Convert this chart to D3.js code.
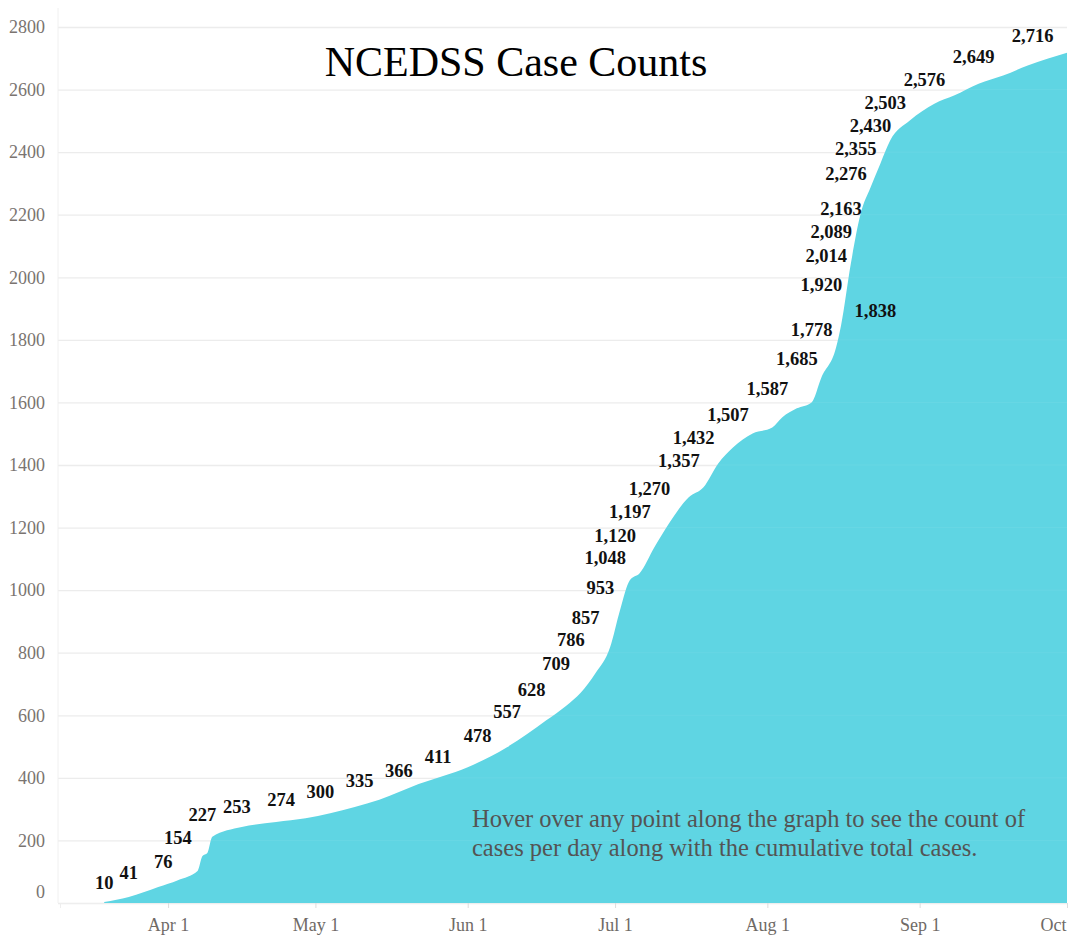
<!DOCTYPE html>
<html>
<head>
<meta charset="utf-8">
<script src="https://cdn.jsdelivr.net/npm/d3@7"></script>
<style>
  body { margin: 0; background: #fff; }
  svg { display: block; }
  .tick text { font-family: "Liberation Serif", "Times New Roman", serif; }
</style>
</head>
<body>
<script>
// cumulative case counts
var dates = [
  "2020-03-19", "2020-03-24", "2020-03-30", "2020-04-03", "2020-04-07", "2020-04-08",
  "2020-04-09", "2020-04-10", "2020-04-16", "2020-04-23", "2020-04-29", "2020-05-09",
  "2020-05-14", "2020-05-22", "2020-06-01", "2020-06-09", "2020-06-17", "2020-06-21",
  "2020-06-24", "2020-06-27", "2020-06-30", "2020-07-02", "2020-07-04", "2020-07-06",
  "2020-07-09", "2020-07-12", "2020-07-16", "2020-07-19", "2020-07-22", "2020-07-25",
  "2020-07-29", "2020-08-02", "2020-08-04", "2020-08-07", "2020-08-10", "2020-08-12",
  "2020-08-15", "2020-08-16", "2020-08-18", "2020-08-20", "2020-08-22", "2020-08-24",
  "2020-08-26", "2020-08-30", "2020-09-04", "2020-09-08", "2020-09-13", "2020-09-18",
  "2020-09-23", "2020-10-01"
];
var cases = [
  3, 19, 51, 73, 102, 150,
  160, 212, 243, 259, 271, 307,
  330, 380, 434, 498, 584, 630,
  672, 734, 818, 936, 1032, 1054,
  1137, 1214, 1297, 1329, 1405, 1456,
  1501, 1520, 1552, 1581, 1600, 1680,
  1776, 1846, 2044, 2204, 2287, 2363,
  2437, 2501, 2555, 2581, 2619, 2645,
  2677, 2718
];

// the count labels and the dates they sit over
var labelDates = [
  "2020-03-19", "2020-03-24", "2020-03-31", "2020-04-03", "2020-04-08", "2020-04-15",
  "2020-04-24", "2020-05-02", "2020-05-10", "2020-05-18", "2020-05-26", "2020-06-03",
  "2020-06-09", "2020-06-14", "2020-06-19", "2020-06-22", "2020-06-25", "2020-06-28",
  "2020-06-29", "2020-07-01", "2020-07-04", "2020-07-08", "2020-07-14", "2020-07-17",
  "2020-07-24", "2020-08-01", "2020-08-07", "2020-08-10", "2020-08-23", "2020-08-12",
  "2020-08-13", "2020-08-14", "2020-08-16", "2020-08-17", "2020-08-19", "2020-08-22",
  "2020-08-25", "2020-09-02", "2020-09-12", "2020-09-24"
];
var labelValues = [
  10, 41, 76, 154, 227, 253, 274, 300, 335, 366, 411, 478, 557, 628, 709, 786, 857, 953,
  1048, 1120, 1197, 1270, 1357, 1432, 1507, 1587, 1685, 1778, 1838, 1920, 2014, 2089,
  2163, 2276, 2355, 2430, 2503, 2576, 2649, 2716
];

var yTicks = d3.range(0, 2801, 200);
var xTicks = ["2020-04-01", "2020-05-01", "2020-06-01", "2020-07-01", "2020-08-01", "2020-09-01", "2020-10-01"];

var title = "NCEDSS Case Counts";
var note = ["Hover over any point along the graph to see the count of",
            "cases per day along with the cumulative total cases."];

(function() {
  var parse = d3.timeParse("%Y-%m-%d");
  var serif = '"Liberation Serif", "Times New Roman", serif';

  var width = 1070, height = 936;
  var plotLeft = 58, plotRight = 1067, plotTop = 27, plotBottom = 903;

  var svg = d3.select("body")
    .append("svg")
    .attr("width", width)
    .attr("height", height);

  var x = d3.scaleTime()
    .domain([parse("2020-03-10"), parse("2020-10-01")])
    .range([plotLeft + 2, plotRight]);

  var y = d3.scaleLinear()
    .domain([0, 2800])
    .range([plotBottom, plotTop]);

  // gridlines + y labels
  var yAxis = svg.append("g")
    .attr("transform", "translate(" + plotLeft + ",0)")
    .call(d3.axisLeft(y)
      .tickValues(yTicks)
      .tickFormat(d3.format("d"))
      .tickSize(-(plotRight - plotLeft))
      .tickPadding(13));
  yAxis.select(".domain").remove();
  yAxis.selectAll("line").attr("stroke", "#ececec").attr("stroke-width", 1.3);
  yAxis.selectAll("text")
    .attr("fill", "#7a7470")
    .style("font-size", "18px")
    .attr("dy", function(d) { return d === 0 ? "-0.28em" : "0.32em"; });

  // left edge line
  svg.append("line")
    .attr("x1", plotLeft).attr("x2", plotLeft)
    .attr("y1", 8).attr("y2", plotBottom)
    .attr("stroke", "#f0f0f0");

  // the area
  var data = dates.map(function(d, i) { return { date: parse(d), value: cases[i] }; });

  var area = d3.area()
    .x(function(d) { return x(d.date); })
    .y0(y(0))
    .y1(function(d) { return y(d.value); })
    .curve(d3.curveMonotoneX);

  svg.append("path")
    .datum(data)
    .attr("d", area)
    .attr("fill", "#5fd5e3");

  // faint gridlines seen through the fill
  svg.append("g")
    .selectAll("line")
    .data(yTicks.slice(1))
    .enter().append("line")
    .attr("x1", plotLeft).attr("x2", plotRight)
    .attr("y1", function(d) { return y(d); })
    .attr("y2", function(d) { return y(d); })
    .attr("stroke", "#ffffff")
    .attr("stroke-opacity", 0.06);

  // x axis
  var xAxis = svg.append("g")
    .attr("transform", "translate(0," + plotBottom + ")")
    .call(d3.axisBottom(x)
      .tickValues(xTicks.map(parse))
      .tickFormat(d3.timeFormat("%b %-d"))
      .tickSize(5)
      .tickPadding(10));
  xAxis.select(".domain").attr("stroke", "#eeeeee");
  xAxis.selectAll("line").attr("stroke", "#dddddd");
  xAxis.selectAll("text")
    .attr("fill", "#6f6a66")
    .style("font-size", "18px");
  // last label sits a little left so it is cut at the edge like the original
  xAxis.selectAll(".tick:last-of-type text").attr("dx", "-0.4em");

  // count labels
  svg.append("g")
    .selectAll("text")
    .data(labelValues)
    .enter().append("text")
    .attr("x", function(d, i) { return x(parse(labelDates[i])); })
    .attr("y", function(d) { return y(d) - 11; })
    .attr("text-anchor", "middle")
    .attr("font-family", serif)
    .attr("font-weight", "bold")
    .attr("font-size", 18.5)
    .attr("fill", "#111")
    .text(d3.format(","));

  // title
  svg.append("text")
    .attr("x", 516)
    .attr("y", 76)
    .attr("text-anchor", "middle")
    .attr("font-family", serif)
    .attr("font-size", 42)
    .attr("fill", "#000")
    .text(title);

  // hover note
  svg.append("g")
    .selectAll("text")
    .data(note)
    .enter().append("text")
    .attr("x", 472)
    .attr("y", function(d, i) { return 827 + i * 29; })
    .attr("font-family", serif)
    .attr("font-size", 24.5)
    .attr("fill", "#545454")
    .text(function(d) { return d; });
})();
</script>
</body>
</html>
